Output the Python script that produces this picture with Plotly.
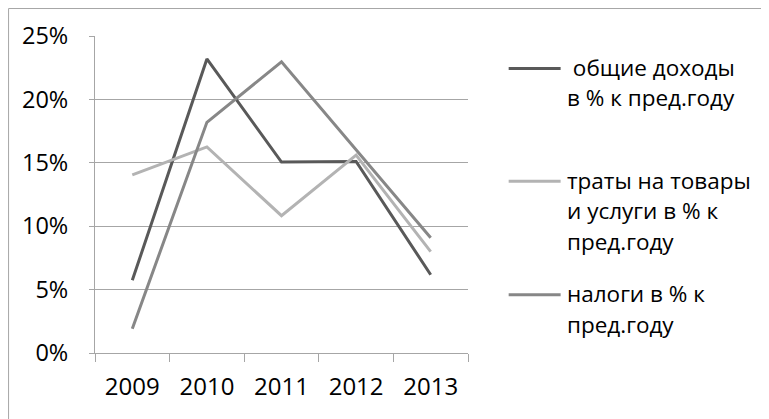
import plotly.graph_objects as go

years = ["2009", "2010", "2011", "2012", "2013"]
income = [0.0573, 0.2319, 0.1506, 0.1511, 0.0617]
spending = [0.1404, 0.1625, 0.1083, 0.1560, 0.0800]
taxes = [0.0192, 0.1819, 0.2297, 0.1600, 0.0909]

names = [
    [" общие доходы", "в % к пред.году"],
    ["траты на товары", "и услуги в % к", "пред.году"],
    ["налоги в % к", "пред.году"],
]
colors = ["#595959", "#b3b3b3", "#878787"]
series = [income, spending, taxes]

OFF = 8  # page body margin
W, H = 769 - OFF, 419 - OFF
L, R, T, B = 95 - OFF, 468.3 - OFF, 36 - OFF, 353.3 - OFF
pw, ph = R - L, B - T

def px(x):
    return (x - OFF - L) / pw

def py(y):
    return (B - (y - OFF)) / ph

FONT = "Open Sans"
fig = go.Figure()
for vals, col, nm in zip(series, colors, names):
    fig.add_trace(go.Scatter(x=years, y=vals, mode="lines", name="".join(nm),
                             line=dict(color=col, width=3), showlegend=False))

shapes = []
annotations = []
# outer chart frame (left and top edges visible)
shapes.append(dict(type="rect", xref="paper", yref="paper",
                   x0=px(8.5), x1=px(790), y0=py(440), y1=py(8.5),
                   line=dict(color="#a6a6a6", width=1), fillcolor="rgba(0,0,0,0)", layer="below"))

# manual legend
leg_line_y = [68.5, 181.5, 295]
line_gap = 30.5
for i, (nm, col) in enumerate(zip(names, colors)):
    y0 = leg_line_y[i]
    shapes.append(dict(type="line", xref="paper", yref="paper",
                       x0=px(509), x1=px(561), y0=py(y0), y1=py(y0),
                       line=dict(color=col, width=3)))
    for j, t in enumerate(nm):
        annotations.append(dict(xref="paper", yref="paper", x=px(565), y=py(y0 - 1 + j * line_gap),
                                text=t.replace(" ", "&nbsp;", 1) if t.startswith(" ") else t,
                                showarrow=False, xanchor="left", yanchor="middle",
                                font=dict(family=FONT, size=22.5, color="#000000")))

fig.update_layout(
    width=W, height=H,
    margin=dict(l=L, r=W - R, t=T, b=H - B, autoexpand=False),
    paper_bgcolor="white", plot_bgcolor="white",
    font=dict(family=FONT, size=24, color="#000000"),
    shapes=shapes, annotations=annotations,
    xaxis=dict(type="category", range=[-0.5, 4.5], tickson="boundaries",
               ticks="outside", ticklen=8, tickcolor="#a6a6a6", tickwidth=1,
               showline=True, linecolor="#a6a6a6", linewidth=1,
               showgrid=False, ticklabelstandoff=12, automargin=False,
               tickfont=dict(family=FONT, size=24)),
    yaxis=dict(range=[0, 0.25], dtick=0.05, tickformat=".0%",
               ticks="outside", ticklen=5, tickcolor="#a6a6a6",
               showline=True, linecolor="#a6a6a6", linewidth=1,
               showgrid=True, gridcolor="#a6a6a6", gridwidth=1,
               zeroline=False, ticklabelstandoff=16, automargin=False,
               tickfont=dict(family=FONT, size=23.5)),
)

fig.write_html("out.html")
